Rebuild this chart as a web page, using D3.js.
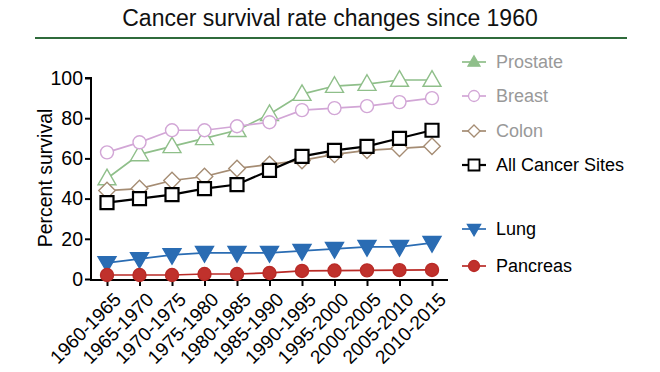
<!DOCTYPE html>
<html><head><meta charset="utf-8">
<script src="https://cdn.jsdelivr.net/npm/d3@7"></script>
<style>body{margin:0;background:#fff}svg{font-family:"Liberation Sans",Arial,sans-serif}</style>
</head><body><svg id="c" width="660" height="372"></svg>
<script>
const periods = ["1960-1965","1965-1970","1970-1975","1975-1980","1980-1985","1985-1990","1990-1995","1995-2000","2000-2005","2005-2010","2010-2015"];
const prostate = [50,62,66,70,74,82,92,96,97,99,99];
const breast = [63,68,74,74,76,78,84,85,86,88,90];
const colon = [44,45,49,51,55,57,59,62,64,65,66];
const allSites = [38,40,42,45,47,54,61,64,66,70,74];
const lung = [8,10,12,13,13,13,14,15,16,16,18];
const pancreas = [2,2,2,2.5,2.5,3,4,4.2,4.3,4.4,4.5];
const yTicks = [0,20,40,60,80,100];

const series = [
  {name:"Prostate", data:prostate, color:"#8fbf8a", sym:"tri", fill:"#fff", text:"#999", ly:62},
  {name:"Breast", data:breast, color:"#d2a6d6", sym:"circ", fill:"#fff", text:"#999", ly:96},
  {name:"Colon", data:colon, color:"#a58c73", sym:"dia", fill:"#fff", text:"#999", ly:131},
  {name:"All Cancer Sites", data:allSites, color:"#000", sym:"sq", fill:"#fff", text:"#000", ly:165},
  {name:"Lung", data:lung, color:"#2a6cb3", sym:"dtri", fill:"#2a6cb3", text:"#000", ly:229},
  {name:"Pancreas", data:pancreas, color:"#b92b27", sym:"circ", fill:"#c0312c", text:"#000", ly:266}
];

const svg = d3.select("#c");
svg.append("text").attr("x",330).attr("y",26).attr("text-anchor","middle")
  .attr("font-size",23).attr("fill","#111").text("Cancer survival rate changes since 1960");
svg.append("line").attr("x1",35).attr("x2",627).attr("y1",38).attr("y2",38)
  .attr("stroke","#2f6b3b").attr("stroke-width",2);

const x = d3.scalePoint().domain(periods).range([107,432]);
const y = d3.scaleLinear().domain([0,100]).range([279,78]);

const gy = svg.append("g").attr("transform","translate(91,0)")
  .call(d3.axisLeft(y).tickValues(yTicks).tickSize(6).tickPadding(2));
gy.select(".domain").attr("stroke","#000").attr("stroke-width",2).attr("d","M-6,78H0V280");
gy.selectAll(".tick line").attr("stroke","#000").attr("stroke-width",2);
gy.selectAll(".tick text").attr("font-size",19.5).attr("fill","#000").attr("font-family","Liberation Sans, Arial, sans-serif");

const gx = svg.append("g").attr("transform","translate(0,280)")
  .call(d3.axisBottom(x).tickSize(6).tickPadding(4));
gx.select(".domain").attr("stroke","#000").attr("stroke-width",2).attr("d","M90,0H448");
gx.selectAll(".tick line").attr("stroke","#000").attr("stroke-width",2);
gx.selectAll(".tick text").attr("font-size",19).attr("fill","#000")
  .attr("font-family","Liberation Sans, Arial, sans-serif")
  .attr("text-anchor","end").attr("dy","0.35em")
  .attr("transform","translate(3,9) rotate(-45)");

svg.append("text").attr("transform","translate(52,178) rotate(-90)")
  .attr("text-anchor","middle").attr("font-size",19.5).attr("fill","#000").text("Percent survival");

function symPath(sym, s){
  if(sym==="tri") return `M0,${-s*0.62}L${s*0.6},${s*0.42}L${-s*0.6},${s*0.42}Z`;
  if(sym==="dtri") return `M0,${s*0.62}L${s*0.6},${-s*0.42}L${-s*0.6},${-s*0.42}Z`;
  if(sym==="dia") return `M0,${-s*0.55}L${s*0.55},0L0,${s*0.55}L${-s*0.55},0Z`;
  if(sym==="sq") return `M${-s/2},${-s/2}h${s}v${s}h${-s}Z`;
  const r=s/2; return `M${r},0A${r},${r} 0 1,1 ${-r},0A${r},${r} 0 1,1 ${r},0Z`;
}
const line = d3.line().x((d,i)=>x(periods[i])).y(d=>y(d));

series.forEach(s=>{
  const g = svg.append("g");
  const lw = s.sym==="sq" ? 2.2 : 1.7;
  g.append("path").attr("d",line(s.data)).attr("fill","none").attr("stroke",s.color).attr("stroke-width",lw);
  const size = s.sym==="sq"?13: (s.sym==="circ"?13: 15);
  g.selectAll("path.m").data(s.data).join("path").attr("class","m")
    .attr("transform",(d,i)=>`translate(${x(periods[i])},${y(d)})`)
    .attr("d",symPath(s.sym,size)).attr("fill",s.fill).attr("stroke",s.color)
    .attr("stroke-width",s.sym==="sq"?2.2:1.4);
  const lg = svg.append("g").attr("transform",`translate(474,${s.ly})`);
  lg.append("line").attr("x1",-12).attr("x2",12).attr("stroke",s.color).attr("stroke-width",lw);
  const lfill = s.sym==="tri" ? s.color : s.fill;
  lg.append("path").attr("d",symPath(s.sym, s.sym==="tri"?10:11)).attr("fill",lfill).attr("stroke",s.color).attr("stroke-width",s.sym==="sq"?1.8:1.3);
  lg.append("text").attr("x",22).attr("dy","0.35em").attr("font-size",18).attr("fill",s.text).text(s.name);
});
</script></body></html>
